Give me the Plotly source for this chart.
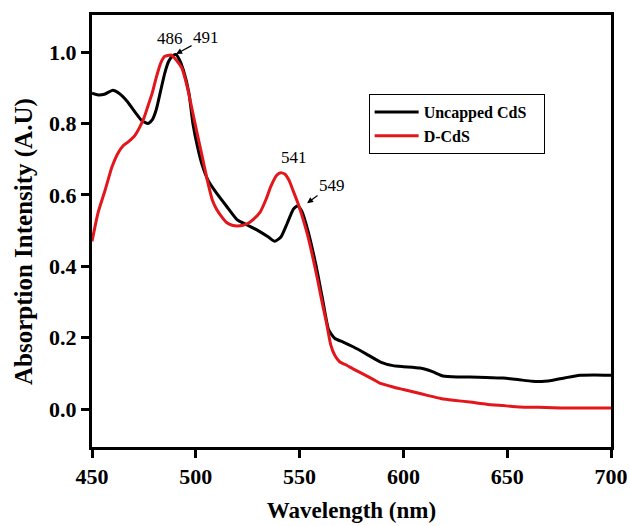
import plotly.graph_objects as go

# Uncapped CdS
wl_uncapped = [450, 453, 456, 460, 463, 467, 471, 474, 477, 479, 481, 483, 485, 487, 489, 490.5,
               492, 494, 496.7, 498.6, 501, 503, 506, 510, 515, 520, 525, 530, 535, 538, 541, 544,
               547, 549, 551, 554, 558, 561, 564, 567, 571, 576, 582, 589, 595, 600, 608, 614, 619,
               626, 632, 640, 648, 655, 662, 668, 672, 678, 685, 692, 700]
abs_uncapped = [0.885, 0.880, 0.882, 0.893, 0.885, 0.862, 0.830, 0.808, 0.800, 0.810, 0.840, 0.890,
                0.940, 0.975, 0.990, 0.993, 0.980, 0.950, 0.885, 0.800, 0.730, 0.685, 0.640, 0.605,
                0.567, 0.530, 0.515, 0.500, 0.482, 0.470, 0.482, 0.520, 0.560, 0.570, 0.555, 0.500,
                0.400, 0.310, 0.222, 0.198, 0.188, 0.174, 0.155, 0.132, 0.122, 0.119, 0.115, 0.105,
                0.093, 0.090, 0.090, 0.089, 0.087, 0.083, 0.078, 0.078, 0.081, 0.088, 0.095, 0.096,
                0.095]

# D-CdS
wl_dcds = [450, 452.9, 456.3, 459.6, 462.5, 465, 467.3, 470.7, 473, 475, 477, 479, 481, 483, 485,
           486, 488, 489.5, 491, 493.3, 496, 498.2, 500, 503, 505.4, 508, 510, 512.6, 515, 517.5,
           520, 522.7, 525, 527, 531, 534, 536, 539, 541, 543, 545, 547, 549, 551, 553.6, 556,
           558.4, 561, 563, 565, 567, 569.4, 572, 575.7, 580, 585, 589, 595, 600, 605, 612, 618,
           624, 632, 640, 648, 656, 665, 672, 680, 690, 700]
abs_dcds = [0.470, 0.550, 0.613, 0.678, 0.717, 0.738, 0.748, 0.767, 0.790, 0.815, 0.850, 0.885,
            0.930, 0.968, 0.988, 0.990, 0.992, 0.985, 0.975, 0.955, 0.900, 0.840, 0.790, 0.710,
            0.645, 0.585, 0.560, 0.538, 0.522, 0.515, 0.513, 0.515, 0.520, 0.528, 0.552, 0.590,
            0.622, 0.655, 0.662, 0.658, 0.640, 0.610, 0.580, 0.545, 0.493, 0.435, 0.370, 0.295,
            0.240, 0.180, 0.150, 0.132, 0.125, 0.113, 0.100, 0.085, 0.072, 0.062, 0.055, 0.048,
            0.038, 0.030, 0.025, 0.020, 0.014, 0.010, 0.006, 0.005, 0.004, 0.003, 0.003, 0.003]

x_ticks = [450, 500, 550, 600, 650, 700]
y_ticks = [0.0, 0.2, 0.4, 0.6, 0.8, 1.0]
y_tick_labels = ["0.0", "0.2", "0.4", "0.6", "0.8", "1.0"]

SERIF = "Liberation Serif, Times New Roman, serif"

fig = go.Figure()
fig.add_trace(go.Scatter(x=wl_uncapped, y=abs_uncapped, mode="lines",
                         name="<b>Uncapped CdS</b>\u00a0\u00a0\u00a0\u200b",
                         line=dict(color="black", width=3, shape="spline", smoothing=0.5)))
fig.add_trace(go.Scatter(x=wl_dcds, y=abs_dcds, mode="lines", name="<b>D-CdS</b>",
                         line=dict(color="#e3161c", width=3, shape="spline", smoothing=0.5)))

ann_font = dict(family=SERIF, size=17, color="black")
fig.add_annotation(x=487.6, y=1.039, text="486", showarrow=False, font=ann_font)
fig.add_annotation(x=490.5, y=0.995, text="491", showarrow=True, ax=30, ay=-16,
                   arrowhead=2, arrowsize=1, arrowwidth=1.2, arrowcolor="black", font=ann_font)
fig.add_annotation(x=547.3, y=0.706, text="541", showarrow=False, font=ann_font)
fig.add_annotation(x=553.6, y=0.577, text="549", showarrow=True, ax=25, ay=-18,
                   arrowhead=2, arrowsize=1, arrowwidth=1.2, arrowcolor="black", font=ann_font)

# y-axis title (placed as rotated text to match reference offset)
fig.add_annotation(xref="paper", yref="paper", x=-0.131, y=0.4745,
                   xanchor="center", yanchor="middle",
                   text="<b>Absorption Intensity (A.U)</b>", textangle=-90, showarrow=False,
                   font=dict(family=SERIF, size=25, color="black"))

fig.update_layout(
    template="none",
    width=630, height=526,
    margin=dict(l=92, r=19, t=15, b=79, autoexpand=False),
    paper_bgcolor="white", plot_bgcolor="white",
    font=dict(family=SERIF, color="black"),
    showlegend=True,
    legend=dict(x=0.533, y=0.817, xanchor="left", yanchor="top",
                bordercolor="black", borderwidth=1, bgcolor="white",
                font=dict(family=SERIF, size=16, color="black"),
                itemwidth=44, tracegroupgap=0),
    xaxis=dict(range=[450, 700], tickvals=x_ticks, ticktext=[str(v) for v in x_ticks],
               automargin=False,
               showline=True, linecolor="black", linewidth=3, mirror=True,
               ticks="outside", ticklen=8, tickwidth=3, tickcolor="black",
               showgrid=False, zeroline=False,
               tickfont=dict(family=SERIF, size=22, color="black", weight="bold"),
               title=dict(text="<b>Wavelength (nm)</b>", font=dict(family=SERIF, size=23),
                          standoff=14)),
    yaxis=dict(range=[-0.106, 1.104], tickvals=y_ticks, ticktext=y_tick_labels,
               automargin=False,
               showline=True, linecolor="black", linewidth=3, mirror=True,
               ticks="outside", ticklen=8, tickwidth=3, tickcolor="black",
               showgrid=False, zeroline=False,
               tickfont=dict(family=SERIF, size=22, color="black", weight="bold")),
)

fig.write_html("out.html")
